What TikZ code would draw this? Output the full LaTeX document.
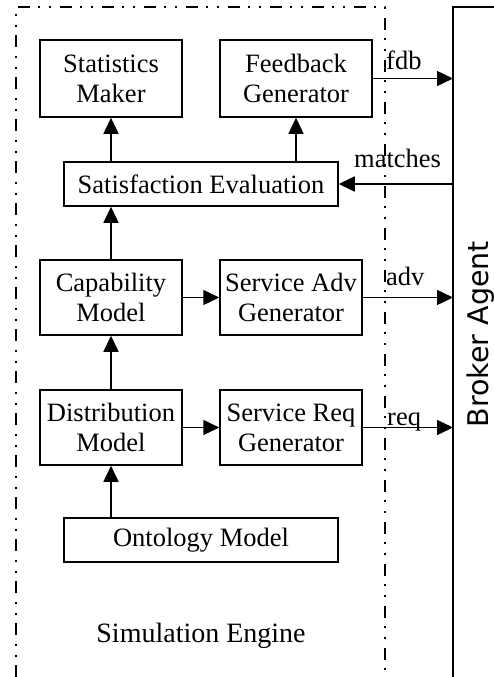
\documentclass[tikz,border=0pt]{standalone}
\usepackage{fontspec}
\setmainfont{Liberation Serif}
\newfontfamily\brkfont{DejaVu Sans}
\usetikzlibrary{arrows.meta}
\begin{document}
\begin{tikzpicture}[x=1pt,y=-1pt,
  box/.style={draw,line width=1.5pt,inner sep=0pt,align=center,font=\fontsize{26.5}{30}\selectfont},
  arr/.style={line width=1.5pt,-{Triangle[length=16pt,width=15pt]}},
  lbl/.style={anchor=base west,inner sep=0pt,font=\fontsize{26.5}{30}\selectfont},
  dashbound/.style={line width=1.3pt,dash pattern=on 12pt off 8pt on 2pt off 9pt on 2pt off 9pt}]
\useasboundingbox (0,0) rectangle (494,677);
% simulation engine boundary
\draw[dashbound] (16,677) -- (16,7) -- (385,7) -- (385,677);
% broker agent boundary
\coordinate (bl) at (453,0);
\draw[line width=1.5pt] (494,7) -- (453,7) -- (453,677);
\node[rotate=90,anchor=base,inner sep=0pt,font=\brkfont\fontsize{28.5}{30}\selectfont] (broker) at (488,334) {Broker Agent};
% boxes
\node[box,minimum width=142pt,minimum height=77pt] (stat) at (111,78.5) {Statistics\\Maker};
\node[box,minimum width=152pt,minimum height=77pt] (feed) at (296,78.5) {Feedback\\Generator};
\node[box,minimum width=274pt,minimum height=44pt] (sat) at (201,184) {Satisfaction Evaluation};
\node[box,minimum width=142pt,minimum height=75pt] (cap) at (111,297.5) {Capability\\Model};
\node[box,minimum width=142pt,minimum height=75pt] (adv) at (291,297.5) {Service Adv\\Generator};
\node[box,minimum width=142pt,minimum height=75pt] (dist) at (111,427.5) {Distribution\\Model};
\node[box,minimum width=142pt,minimum height=75pt] (req) at (291,427.5) {Service Req\\Generator};
\node[box,minimum width=274pt,minimum height=44pt] (onto) at (201,540) {Ontology Model};
\node[inner sep=0pt,font=\fontsize{28}{30}\selectfont] (sim) at (201,636) {Simulation Engine};
% internal arrows
\draw[arr] (sat.north -| stat.south) -- (stat.south);
\draw[arr] (sat.north -| feed.south) -- (feed.south);
\draw[arr] (cap.north) -- (cap.north |- sat.south);
\draw[arr] (dist.north) -- (cap.south);
\draw[arr] (onto.north -| dist.south) -- (dist.south);
\draw[arr] (cap.east) -- (adv.west);
\draw[arr] (dist.east) -- (req.west);
% arrows to/from broker
\draw[arr] (feed.east) -- (feed.east -| bl);
\draw[arr] (sat.east -| bl) -- (sat.east);
\draw[arr] (adv.east) -- (adv.east -| bl);
\draw[arr] (req.east) -- (req.east -| bl);
% labels
\node[lbl] (lfdb) at (386,70) {fdb};
\node[lbl] (lmatch) at (354,167) {matches};
\node[lbl] (ladv) at (386,285) {adv};
\node[lbl] (lreq) at (387,425) {req};
\end{tikzpicture}
\end{document}
